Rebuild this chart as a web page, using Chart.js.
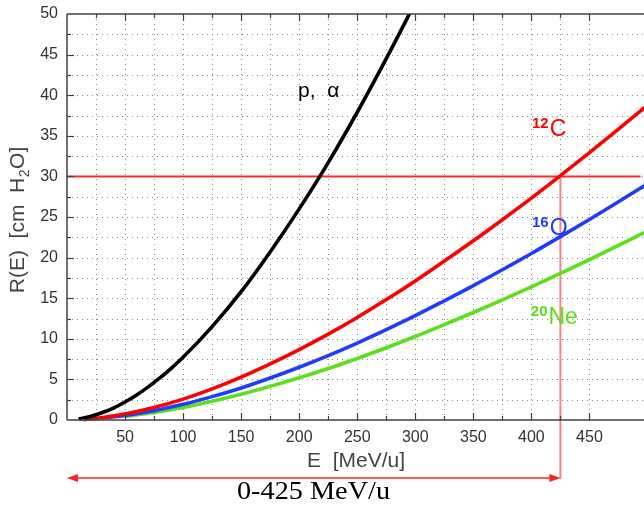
<!DOCTYPE html>
<html>
<head>
<meta charset="utf-8">
<script src="https://cdn.jsdelivr.net/npm/chart.js@4.4.1/dist/chart.umd.min.js"></script>
<style>
  body { margin: 0; background: #fff; }
  #wrap { width: 644px; height: 505px; }
</style>
</head>
<body>
<div id="wrap"><canvas id="rangeChart" width="644" height="505"></canvas></div>
<script>
// Range in water R(E) [cm] vs energy E [MeV/u]
const energyP = [10, 20, 30, 40, 50, 60, 70, 80, 90, 100, 125, 150, 175, 200, 225, 250, 275, 300];
const rangeP  = [0.12, 0.43, 0.89, 1.47, 2.22, 3.08, 4.08, 5.18, 6.40, 7.72, 11.5, 15.8, 20.7, 26.0, 31.7, 37.9, 44.5, 51.4];

const energyC = [14, 25, 50, 75, 100, 125, 150, 175, 200, 225, 250, 275, 300, 325, 350, 375, 400, 425, 450, 475, 500];
const rangeC  = [0.05, 0.21, 0.74, 1.53, 2.57, 3.83, 5.27, 6.90, 8.67, 10.57, 12.63, 14.83, 17.13, 19.57, 22.07, 24.67, 27.33, 30.10, 32.93, 35.83, 38.77];

const energyO = [30, 50, 75, 100, 125, 150, 175, 200, 225, 250, 275, 300, 325, 350, 375, 400, 425, 450, 475, 500];
const rangeO  = [0.22, 0.56, 1.15, 1.93, 2.88, 3.95, 5.18, 6.50, 7.93, 9.48, 11.13, 12.85, 14.68, 16.55, 18.50, 20.50, 22.58, 24.70, 26.88, 29.08];

const energyNe = [50, 75, 100, 125, 150, 175, 200, 225, 250, 275, 300, 325, 350, 375, 400, 425, 450, 475, 500];
const rangeNe  = [0.44, 0.92, 1.54, 2.30, 3.16, 4.14, 5.20, 6.34, 7.58, 8.90, 10.28, 11.74, 13.24, 14.80, 16.40, 18.06, 19.76, 21.50, 23.26];

const xTickLabels = [50, 100, 150, 200, 250, 300, 350, 400, 450];
const yTickLabels = [0, 5, 10, 15, 20, 25, 30, 35, 40, 45, 50];

const refRange = 30;     // cm H2O
const refEnergy = 425;   // MeV/u
const xMax = 497;

function pts(xs, ys) {
  return xs.map((e, i) => ({ x: e, y: ys[i] }));
}

function line(ctx, x1, y1, x2, y2) {
  ctx.beginPath();
  ctx.moveTo(x1, y1);
  ctx.lineTo(x2, y2);
  ctx.stroke();
}

// grid, frame, reference lines and text labels
const overlay = {
  id: 'overlay',
  beforeDatasetsDraw(chart) {
    const { ctx, chartArea: a, scales: { x, y } } = chart;
    ctx.save();

    // dotted grid
    ctx.strokeStyle = '#8a8a8a';
    ctx.lineWidth = 1;
    ctx.setLineDash([1, 4]);
    x.ticks.forEach(t => {
      if (t.value % 25 !== 0 || t.value === 0) return;
      const px = Math.round(x.getPixelForValue(t.value)) + 0.5;
      line(ctx, px, a.top, px, a.bottom);
    });
    y.ticks.forEach(t => {
      if (t.value === 0 || t.value === 50) return;
      const py = Math.round(y.getPixelForValue(t.value)) + 0.5;
      line(ctx, a.left, py, a.right, py);
    });
    ctx.setLineDash([]);

    // 30 cm / 425 MeV/u markers
    const yRef = y.getPixelForValue(refRange);
    const xRef = x.getPixelForValue(refEnergy);
    const arrowY = 478;
    ctx.strokeStyle = '#ff2a2a';
    ctx.lineWidth = 2;
    line(ctx, a.left, yRef, x.getPixelForValue(494), yRef);

    ctx.strokeStyle = '#ff8080';
    line(ctx, xRef, yRef, xRef, arrowY + 1);

    // double arrow 0 - 425 MeV/u
    const x0 = x.getPixelForValue(0);
    ctx.strokeStyle = '#ff2020';
    ctx.fillStyle = '#ff2020';
    ctx.lineWidth = 1.5;
    line(ctx, x0 + 8, arrowY, xRef - 8, arrowY);
    ctx.beginPath();
    ctx.moveTo(x0, arrowY);
    ctx.lineTo(x0 + 11, arrowY - 4);
    ctx.lineTo(x0 + 11, arrowY + 4);
    ctx.closePath();
    ctx.fill();
    ctx.beginPath();
    ctx.moveTo(xRef, arrowY);
    ctx.lineTo(xRef - 11, arrowY - 4);
    ctx.lineTo(xRef - 11, arrowY + 4);
    ctx.closePath();
    ctx.fill();

    ctx.restore();
  },
  afterDatasetsDraw(chart) {
    const { ctx, chartArea: a, scales: { x, y } } = chart;
    ctx.save();

    // frame (no right border)
    ctx.strokeStyle = '#404040';
    ctx.lineWidth = 1.5;
    line(ctx, a.left, a.top, a.right, a.top);
    line(ctx, a.left, a.top, a.left, a.bottom);
    line(ctx, a.left, a.bottom, a.right, a.bottom);

    // inward tick marks
    ctx.lineWidth = 1.2;
    x.ticks.forEach(t => {
      if (t.value % 25 !== 0 || t.value === 0) return;
      const len = t.value % 50 === 0 ? 7 : 4;
      const px = Math.round(x.getPixelForValue(t.value)) + 0.5;
      line(ctx, px, a.bottom, px, a.bottom - len);
      line(ctx, px, a.top, px, a.top + len);
    });
    y.ticks.forEach(t => {
      if (t.value === 0 || t.value === 50) return;
      const len = t.value % 5 === 0 ? 7 : 4;
      const py = Math.round(y.getPixelForValue(t.value)) + 0.5;
      line(ctx, a.left, py, a.left + len, py);
    });

    // axis titles
    ctx.fillStyle = '#444';
    ctx.font = '21px "Liberation Sans", Arial, sans-serif';
    ctx.textAlign = 'center';
    ctx.textBaseline = 'alphabetic';
    ctx.fillText('E  [MeV/u]', 356, 467);

    ctx.translate(24, 220);
    ctx.rotate(-Math.PI / 2);
    const part1 = 'R(E)  [cm  H';
    const part2 = 'O]';
    ctx.font = '21px "Liberation Sans", Arial, sans-serif';
    const w1 = ctx.measureText(part1).width;
    const w3 = ctx.measureText(part2).width;
    ctx.font = '14px "Liberation Sans", Arial, sans-serif';
    const w2 = ctx.measureText('2').width + 1;
    let sx = -(w1 + w2 + w3) / 2;
    ctx.textAlign = 'left';
    ctx.font = '21px "Liberation Sans", Arial, sans-serif';
    ctx.fillText(part1, sx, 0);
    ctx.font = '14px "Liberation Sans", Arial, sans-serif';
    ctx.fillText('2', sx + w1 + 0.5, 5);
    ctx.font = '21px "Liberation Sans", Arial, sans-serif';
    ctx.fillText(part2, sx + w1 + w2, 0);
    ctx.setTransform(1, 0, 0, 1, 0, 0);

    // curve labels
    ctx.textAlign = 'left';
    ctx.fillStyle = '#000';
    ctx.font = '21px "Liberation Sans", Arial, sans-serif';
    ctx.fillText('p,  \u03b1', x.getPixelForValue(199), y.getPixelForValue(39.8));

    const iso = (mass, sym, e, r, color) => {
      const px = x.getPixelForValue(e);
      const py = y.getPixelForValue(r);
      ctx.fillStyle = color;
      ctx.font = 'bold 15px "Liberation Sans", Arial, sans-serif';
      ctx.fillText(mass, px, py - 8);
      const mw = ctx.measureText(mass).width;
      ctx.font = '23px "Liberation Sans", Arial, sans-serif';
      ctx.fillText(sym, px + mw + 1, py);
    };
    iso('12', 'C', 400.5, 35.0, '#ff0000');
    iso('16', 'O', 400.5, 22.8, '#1f3dff');
    iso('20', 'Ne', 399.5, 11.8, '#5ce01c');

    // range annotation
    ctx.fillStyle = '#000';
    ctx.font = '25px "Liberation Serif", "Times New Roman", serif';
    const txt = '0-425 MeV/u';
    const tw = ctx.measureText(txt).width;
    ctx.translate(237, 499);
    ctx.scale(153 / tw, 1);
    ctx.fillText(txt, 0, 0);

    ctx.restore();
  }
};

const ds = (label, data, color) => ({
  label,
  data,
  borderColor: color,
  backgroundColor: color,
  borderWidth: 3.6,
  pointRadius: 0,
  fill: false,
  cubicInterpolationMode: 'monotone',
  clip: { left: 0, top: 0, right: 0, bottom: 4 }
});

new Chart(document.getElementById('rangeChart'), {
  type: 'line',
  data: {
    datasets: [
      ds('p, \u03b1', pts(energyP, rangeP), '#000000'),
      ds('12C', pts(energyC, rangeC), '#ff0000'),
      ds('16O', pts(energyO, rangeO), '#1f3dff'),
      ds('20Ne', pts(energyNe, rangeNe), '#5ce01c')
    ]
  },
  options: {
    responsive: false,
    animation: false,
    layout: { padding: { top: 14, right: 0, left: 0, bottom: 0 } },
    plugins: {
      legend: { display: false },
      tooltip: { enabled: false }
    },
    scales: {
      x: {
        type: 'linear',
        min: 0,
        max: xMax,
        grid: { display: false, drawTicks: true, tickLength: 8 },
        border: { display: false },
        ticks: {
          stepSize: 25,
          autoSkip: false,
          maxRotation: 0,
          padding: 0,
          color: '#333',
          font: { family: '"Liberation Sans", Arial, sans-serif', size: 16 },
          callback: v => xTickLabels.includes(v) ? String(v) : ''
        },
        afterFit: s => { s.height = 85; s.paddingLeft = 0; s.paddingRight = 0; }
      },
      y: {
        type: 'linear',
        min: 0,
        max: 50,
        grid: { display: false, drawTicks: true, tickLength: 9 },
        border: { display: false },
        ticks: {
          stepSize: 2.5,
          autoSkip: false,
          padding: 0,
          color: '#333',
          font: { family: '"Liberation Sans", Arial, sans-serif', size: 16 },
          callback: v => yTickLabels.includes(v) ? String(v) : ''
        },
        afterFit: s => { s.width = 67; s.paddingTop = 0; s.paddingBottom = 0; }
      }
    }
  },
  plugins: [overlay]
});
</script>
</body>
</html>
